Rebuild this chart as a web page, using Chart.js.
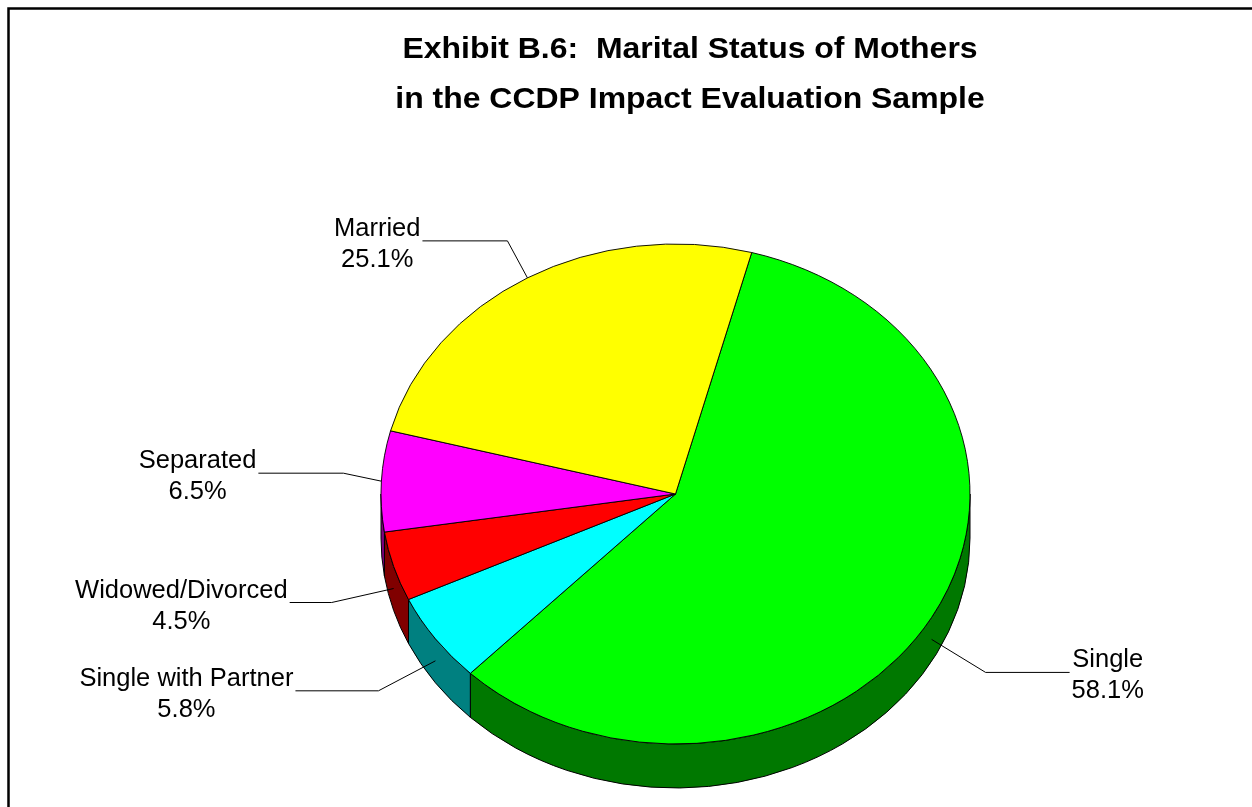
<!DOCTYPE html>
<html>
<head>
<meta charset="utf-8">
<title>Marital Status of Mothers</title>
<script src="https://cdn.jsdelivr.net/npm/chart.js@4.4.1/dist/chart.umd.min.js"></script>
<style>
  html, body { margin: 0; padding: 0; background: #fff; }
  #wrap { position: relative; width: 1252px; height: 807px; }
</style>
</head>
<body>
<div id="wrap"><canvas id="chart"></canvas></div>
<script>
// data, clockwise from the Single / Married boundary
const categories = ['Single', 'Single with Partner', 'Widowed/Divorced', 'Separated', 'Married'];
const shares = [58.1, 5.8, 4.5, 6.5, 25.1];
const titleLines = ['Exhibit B.6:  Marital Status of Mothers', 'in the CCDP Impact Evaluation Sample'];

const topColors = ['#00ff00', '#00ffff', '#ff0000', '#ff00ff', '#ffff00'];
const sideColors = ['#007800', '#008080', '#800000', '#800080', '#808000'];

// leader line per slice: [elbow dx, elbow dy, horizontal run]
const leaderLayout = [[54, 33, 84], [-57, 30, 83], [-62, 14, 42], [-38, -8, 85], [-20, -37, 85]];

const TILT = 250 / 294.5;   // vertical squash of the pie top
const DEPTH = 44;           // height of the 3D wall
const LABEL_FONT = '25.5px "Liberation Sans", Arial, sans-serif';
const TITLE_FONT = 'bold 30px "Liberation Sans", Arial, sans-serif';
const TITLE_STRETCH = 1.065;

/** Draws the visible front wall, then squashes the pie into an ellipse. */
const tiltPlugin = {
  id: 'tilt',
  beforeDatasetsDraw(chart) {
    const ctx = chart.ctx;
    const arcs = chart.getDatasetMeta(0).data;
    const { x: cx, y: cy, outerRadius: rx } = arcs[0];
    const ry = rx * TILT;

    ctx.save();
    ctx.lineWidth = 1;
    ctx.strokeStyle = '#000';
    arcs.forEach((arc, i) => {
      for (const shift of [-2 * Math.PI, 0, 2 * Math.PI]) {
        const a = Math.max(arc.startAngle + shift, 0);
        const b = Math.min(arc.endAngle + shift, Math.PI);
        if (b <= a) continue;
        ctx.beginPath();
        ctx.ellipse(cx, cy, rx, ry, 0, a, b);
        ctx.ellipse(cx, cy + DEPTH, rx, ry, 0, b, a, true);
        ctx.closePath();
        ctx.fillStyle = sideColors[i];
        ctx.fill();
        ctx.stroke();
      }
    });
    ctx.restore();

    ctx.save();
    ctx.translate(cx, cy);
    ctx.scale(1, TILT);
    ctx.translate(-cx, -cy);
  },
  afterDatasetsDraw(chart) {
    chart.ctx.restore();
  }
};

/** Category name and share beside each slice, with an elbow leader line. */
const labelPlugin = {
  id: 'sliceLabels',
  afterDraw(chart) {
    const ctx = chart.ctx;
    const arcs = chart.getDatasetMeta(0).data;
    ctx.save();
    ctx.font = LABEL_FONT;
    ctx.fillStyle = '#000';
    ctx.strokeStyle = '#000';
    ctx.lineWidth = 1;
    arcs.forEach((arc, i) => {
      const { x: cx, y: cy, outerRadius: rx } = arc;
      const mid = (arc.startAngle + arc.endAngle) / 2;
      const sx = cx + rx * Math.cos(mid);
      let sy = cy + rx * TILT * Math.sin(mid);
      if (Math.sin(mid) > 0) sy += DEPTH / 2;
      const [dx, dy, run] = leaderLayout[i];
      const ex = sx + dx, ey = sy + dy;
      const dir = dx < 0 ? -1 : 1;
      const hx = ex + dir * run;

      ctx.beginPath();
      ctx.moveTo(sx, sy);
      ctx.lineTo(ex, ey);
      ctx.lineTo(hx, ey);
      ctx.stroke();

      const lines = [categories[i], shares[i].toFixed(1) + '%'];
      const w = Math.max(...lines.map(t => ctx.measureText(t).width));
      const tx = hx + dir * (w / 2 + 2);
      ctx.textAlign = 'center';
      ctx.textBaseline = 'alphabetic';
      ctx.fillText(lines[0], tx, ey - 5);
      ctx.fillText(lines[1], tx, ey + 26);
    });
    ctx.restore();
  }
};

/** Outer frame and the two-line title. */
const framePlugin = {
  id: 'frame',
  afterDraw(chart) {
    const ctx = chart.ctx;
    ctx.save();
    ctx.lineWidth = 2.5;
    ctx.strokeStyle = '#000';
    ctx.strokeRect(8.5, 8.5, chart.width + 10, chart.height + 10);
    ctx.font = TITLE_FONT;
    ctx.fillStyle = '#000';
    ctx.textAlign = 'center';
    ctx.textBaseline = 'alphabetic';
    titleLines.forEach((t, i) => {
      ctx.save();
      ctx.translate(690, 58 + i * 50);
      ctx.scale(TITLE_STRETCH, 1);
      ctx.fillText(t, 0, 0);
      ctx.restore();
    });
    ctx.restore();
  }
};

new Chart(document.getElementById('chart'), {
  type: 'pie',
  data: {
    labels: categories,
    datasets: [{
      data: shares,
      backgroundColor: topColors,
      borderColor: '#000',
      borderWidth: 1,
      clip: false,
    }],
  },
  options: {
    responsive: true,
    maintainAspectRatio: false,
    animation: false,
    events: [],
    rotation: 15,
    radius: 294.5,
    layout: { padding: { left: 99, right: 0, top: 181, bottom: 0 } },
    plugins: {
      legend: { display: false },
      tooltip: { enabled: false },
      title: { display: false },
    },
  },
  plugins: [tiltPlugin, labelPlugin, framePlugin],
});
</script>
</body>
</html>
